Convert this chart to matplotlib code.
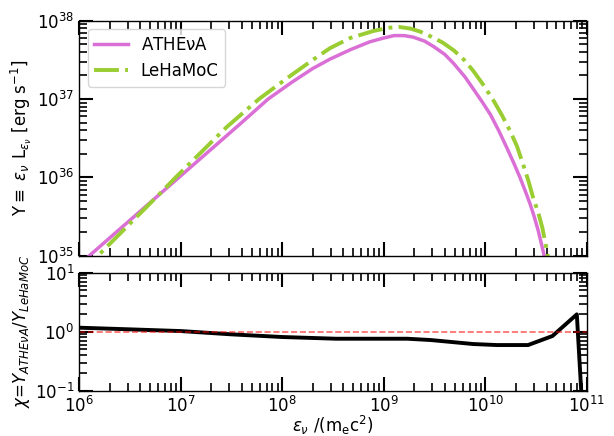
import matplotlib
matplotlib.use("Agg")
import matplotlib.pyplot as plt
from matplotlib.ticker import LogLocator, NullFormatter
import numpy as np

# log10 photon energy / log10 luminosity
athena_logE = [6.00, 6.10, 6.40, 6.70, 7.00, 7.30, 7.60, 7.86, 8.10, 8.30,
               8.47, 8.67, 8.86, 9.00, 9.10, 9.20, 9.29, 9.40, 9.49, 9.60,
               9.69, 9.80, 9.88, 9.97, 10.05, 10.13, 10.21, 10.28, 10.34,
               10.40, 10.44, 10.48, 10.52, 10.57, 10.62]
athena_logY = [34.89, 35.00, 35.34, 35.68, 36.02, 36.36, 36.70, 37.00, 37.22,
               37.39, 37.51, 37.63, 37.73, 37.78, 37.81, 37.81, 37.79, 37.74,
               37.67, 37.57, 37.45, 37.28, 37.13, 36.96, 36.80, 36.60, 36.38,
               36.18, 36.00, 35.80, 35.66, 35.50, 35.32, 35.05, 34.75]

lehamoc_logE = [6.00, 6.20, 6.40, 6.60, 6.80, 6.95, 7.20, 7.45, 7.77, 8.04,
                8.30, 8.47, 8.67, 8.90, 9.05, 9.15, 9.26, 9.36, 9.46, 9.58,
                9.69, 9.79, 9.88, 9.98, 10.08, 10.16, 10.24, 10.31, 10.37,
                10.42, 10.47, 10.52, 10.56, 10.60, 10.64]
lehamoc_logY = [34.74, 35.02, 35.28, 35.54, 35.80, 36.00, 36.32, 36.64, 37.00,
                37.26, 37.50, 37.65, 37.78, 37.87, 37.91, 37.92, 37.90, 37.86,
                37.80, 37.72, 37.62, 37.50, 37.36, 37.18, 36.98, 36.80, 36.60,
                36.40, 36.17, 35.97, 35.74, 35.55, 35.36, 35.10, 34.80]

# ratio of the two models on the coarse comparison grid
ratio_logE = [6.00, 6.50, 7.00, 7.50, 8.00, 8.53, 9.23, 9.46, 9.88, 10.11,
              10.42, 10.66, 10.90, 10.96]
ratio_log = [0.068, 0.040, 0.011, -0.045, -0.090, -0.119, -0.119, -0.141,
             -0.209, -0.226, -0.226, -0.073, 0.294, -1.5]

E_ath = 10.0 ** np.array(athena_logE)
Y_ath = 10.0 ** np.array(athena_logY)
E_leh = 10.0 ** np.array(lehamoc_logE)
Y_leh = 10.0 ** np.array(lehamoc_logY)
E_rat = 10.0 ** np.array(ratio_logE)
chi = 10.0 ** np.array(ratio_log)

plt.rcParams["font.size"] = 12
plt.rcParams["mathtext.default"] = "regular"

fig = plt.figure(figsize=(6.14, 4.36), dpi=100)
ax1 = fig.add_axes([0.129, 0.4135, 0.827, 0.539])
ax2 = fig.add_axes([0.129, 0.1039, 0.827, 0.2706])


def style_axis(ax):
    for axis in (ax.xaxis, ax.yaxis):
        axis.set_major_locator(LogLocator(base=10, numticks=20))
        axis.set_minor_locator(LogLocator(base=10, subs=np.arange(2, 10), numticks=20))
        axis.set_minor_formatter(NullFormatter())
    ax.tick_params(which="both", direction="in", top=True, right=True)
    ax.tick_params(which="major", length=10, width=1.5, labelsize=12)
    ax.tick_params(which="minor", length=6, width=1.2)
    for sp in ax.spines.values():
        sp.set_linewidth(1.0)


ax1.plot(E_ath, Y_ath, color="orchid", lw=2.5, label=r"ATHE$\nu$A")
ax1.plot(E_leh, Y_leh, color="yellowgreen", lw=2.8, ls="-.", label="LeHaMoC")
ax1.set_xscale("log")
ax1.set_yscale("log")
style_axis(ax1)
ax1.set_xlim(1e6, 1e11)
ax1.set_ylim(1e35, 1e38)
ax1.tick_params(which="both", labelbottom=False)
ax1.set_ylabel(r"Y$\equiv$ $\mathit{\varepsilon_\nu}$ L$_{\mathit{\varepsilon_\nu}}$ [erg s$^{-1}$]",
               fontsize=12, labelpad=2)
ax1.legend(loc="upper left", fontsize=12)

ax2.plot(E_rat, chi, color="black", lw=2.8)
ax2.axhline(1.0, color="red", alpha=0.6, lw=1.2, ls="--")
ax2.set_xscale("log")
ax2.set_yscale("log")
style_axis(ax2)
ax2.set_xlim(1e6, 1e11)
ax2.set_ylim(1e-1, 1e1)
ax2.set_xlabel(r"$\mathit{\varepsilon_\nu}$ /(m$_e$c$^2$)", fontsize=12, labelpad=-1)
ax2.set_ylabel(r"$\mathit{\chi}$=$\mathit{Y_{ATHE\nu A}/Y_{LeHaMoC}}$", fontsize=12,
               labelpad=2)

fig.savefig("out.png", dpi=100)
